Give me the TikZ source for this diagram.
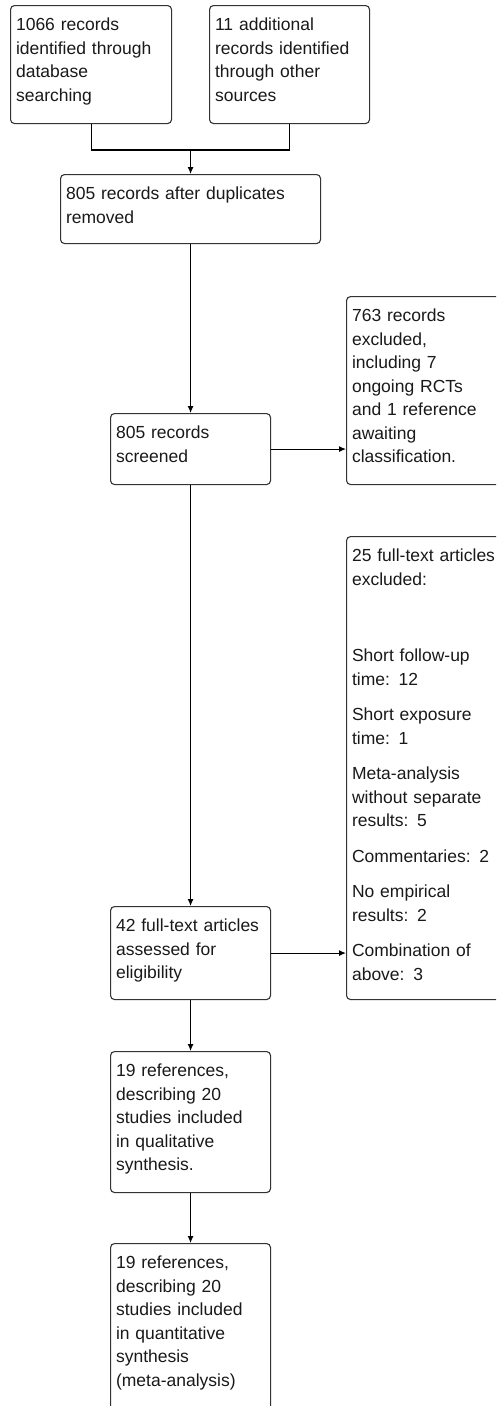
\documentclass[tikz,border=0pt]{standalone}
\usepackage{fontspec}
\setmainfont{Liberation Sans}
\usetikzlibrary{arrows.meta}

\tikzset{
    flowbox/.style={draw=black!80, line width=1.1pt, rounded corners=4pt,
        anchor=north west, align=left, inner xsep=5.5pt, inner ysep=0pt,
        text height=25pt, text=black!90,
        font=\fontsize{17.5}{23.5}\selectfont},
    arr/.style={line width=1.1pt, black, -{Latex[length=7pt,width=6pt]}},
}

\begin{document}
\begin{tikzpicture}[x=1pt, y=-1pt]
    % Page frame
    \useasboundingbox (0,0) rectangle (496,1406);
    \clip (0,0) rectangle (496,1406);

    % Identification
    \node[flowbox, text width=150pt, text depth=93pt] (database) at (10,5)
        {1066 records\\identified through\\database\\searching};
    \node[flowbox, text width=149pt, text depth=93pt] (othersrc) at (209,5)
        {11 additional\\records identified\\through other\\sources};
    \node[flowbox, text width=249pt, text depth=44pt] (dedup) at (60,174)
        {805 records after duplicates\\removed};

    % Screening
    \node[flowbox, text width=149pt, text depth=46pt] (screened) at (110,413)
        {805 records\\screened};
    \node[flowbox, text width=149pt, text depth=163pt] (excluded) at (346,296)
        {763 records\\excluded,\\including 7\\ongoing RCTs\\and 1 reference\\awaiting\\classification.};

    % Eligibility
    \node[flowbox, text width=149pt, text depth=68pt] (fulltext) at (110,906)
        {42 full-text articles\\assessed for\\eligibility};
    \node[flowbox, text width=149pt, text depth=438pt] (ftexcluded) at (346,536)
        {25 full-text articles\\excluded:\\[53pt]
         Short follow-up\\time: 12\\[12pt]
         Short exposure\\time: 1\\[12pt]
         Meta-analysis\\without separate\\results: 5\\[12pt]
         Commentaries: 2\\[12pt]
         No empirical\\results: 2\\[12pt]
         Combination of\\above: 3};

    % Included
    \node[flowbox, text width=149pt, text depth=116pt] (qualitative) at (110,1051)
        {19 references,\\describing 20\\studies included\\in qualitative\\synthesis.};
    \node[flowbox, text width=149pt, text depth=175pt] (quantitative) at (110,1243)
        {19 references,\\describing 20\\studies included\\in quantitative\\synthesis\\(meta-analysis)};

    % Connectors
    \coordinate (merge) at ([yshift=24pt]dedup.north);
    \draw[line width=1.1pt, black] (database.south) |- (merge) -| (othersrc.south);
    \draw[arr] (merge) -- (dedup.north);
    \draw[arr] (dedup.south) -- (screened.north);
    \draw[arr] (screened.east) -- (screened.east -| excluded.west);
    \draw[arr] (screened.south) -- (fulltext.north);
    \draw[arr] (fulltext.east) -- (fulltext.east -| ftexcluded.west);
    \draw[arr] (fulltext.south) -- (qualitative.north);
    \draw[arr] (qualitative.south) -- (quantitative.north);

\end{tikzpicture}
\end{document}
